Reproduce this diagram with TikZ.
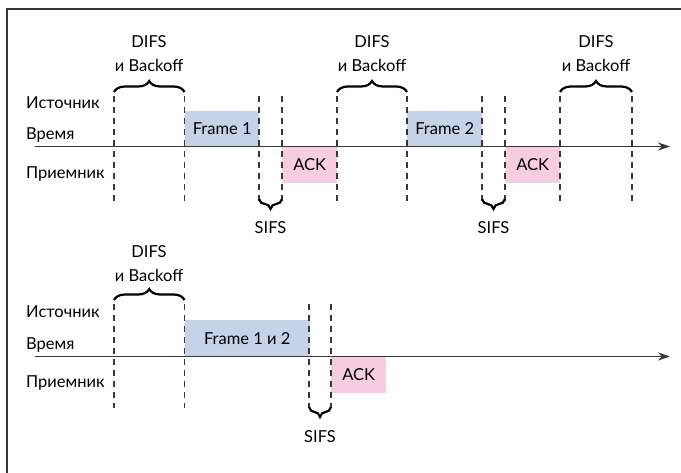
\documentclass[tikz,border=0pt]{standalone}
\usepackage{fontspec}
\setmainfont{Lato}
\usetikzlibrary{decorations.pathreplacing,arrows.meta}
\definecolor{linegray}{RGB}{55,55,55}
\definecolor{framefill}{RGB}{198,210,232}
\definecolor{ackfill}{RGB}{246,206,224}
\tikzset{
  txt/.style={font=\fontsize{16.5}{18}\selectfont, inner sep=0pt, text=black},
  lbl/.style={txt, anchor=west},
  framebox/.style={fill=framefill, inner sep=0pt, font=\fontsize{16.5}{18}\selectfont},
  ackbox/.style={fill=ackfill, inner sep=0pt, font=\fontsize{16.5}{18}\selectfont},
  dline/.style={draw=linegray, line width=1.5pt, dash pattern=on 6pt off 5pt},
  axis/.style={draw=linegray, line width=1.4pt, -{Stealth[length=12pt,width=8pt]}},
  bracetop/.style={draw=black, line width=2.2pt, decorate, decoration={brace, amplitude=11pt}},
  bracebot/.style={draw=black, line width=2.2pt, decorate, decoration={brace, amplitude=10pt}},
}
\begin{document}
\begin{tikzpicture}[x=1pt,y=-1pt]
\useasboundingbox (0,0) rectangle (681,473);
\draw[linegray, line width=2pt] (6.5,473) -- (6.5,9.5) -- (681,9.5);

% ---------- top diagram ----------
\node[lbl] (src1) at (26,103) {Источник};
\node[lbl] (time1) at (26,135) {Время};
\node[lbl] (rcv1) at (26,174) {Приемник};

\coordinate (ax1s) at (35,146.5);
\coordinate (ax1e) at (670,146.5);

\node[framebox, minimum width=74pt, minimum height=36pt, anchor=north west] (f1) at (185,110.5) {Frame 1};
\node[ackbox, minimum width=55pt, minimum height=36pt, anchor=north west] (ack1) at (282,146.5) {ACK};
\node[framebox, minimum width=75pt, minimum height=36pt, anchor=north west] (f2) at (407,110.5) {Frame 2};
\node[ackbox, minimum width=55pt, minimum height=36pt, anchor=north west] (ack2) at (505,146.5) {ACK};

\draw[axis] (ax1s) -- (ax1e);

\foreach \n/\x in {a/114,b/184.5,c/259,d/282,e/337,f/407,g/482,h/505,i/560,j/632}{
  \coordinate (t\n) at (\x,96);
  \coordinate (b\n) at (\x,201);
  \draw[dline] (t\n) -- (b\n);
}

\draw[bracetop] (114,92) coordinate (br1a) -- (184.5,92) coordinate (br1b);
\draw[bracetop] (337,92) coordinate (br2a) -- (407,92) coordinate (br2b);
\draw[bracetop] (560,92) coordinate (br3a) -- (632,92) coordinate (br3b);
\node[txt] (difs1) at (149,42) {DIFS};
\node[txt] (bo1) at (149,65) {и Backoff};
\node[txt] (difs2) at (372,42) {DIFS};
\node[txt] (bo2) at (372,65) {и Backoff};
\node[txt] (difs3) at (596,42) {DIFS};
\node[txt] (bo3) at (596,65) {и Backoff};

\draw[bracebot] (282,199) -- (259,199);
\draw[bracebot] (505,199) -- (482,199);
\node[txt] (sifs1) at (270.5,228) {SIFS};
\node[txt] (sifs2) at (493.5,228) {SIFS};

% ---------- bottom diagram ----------
\node[lbl] (src2) at (26,312) {Источник};
\node[lbl] (time2) at (26,345) {Время};
\node[lbl] (rcv2) at (26,383) {Приемник};

\coordinate (ax2s) at (35,356.5);
\coordinate (ax2e) at (670,356.5);

\node[framebox, minimum width=125pt, minimum height=37pt, anchor=north west] (f12) at (184.5,319.5) {Frame 1 и 2};
\node[ackbox, minimum width=55pt, minimum height=36pt, anchor=north west] (ack3) at (331,356.5) {ACK};

\draw[axis] (ax2s) -- (ax2e);

\foreach \n/\x in {k/114,l/184.5,m/309,n/331}{
  \coordinate (t\n) at (\x,304);
  \coordinate (b\n) at (\x,408);
  \draw[dline] (t\n) -- (b\n);
}

\draw[bracetop] (114,300) -- (184.5,300);
\node[txt] (difs4) at (149,252) {DIFS};
\node[txt] (bo4) at (149,275) {и Backoff};

\draw[bracebot] (331,407) -- (309,407);
\node[txt] (sifs3) at (320,437) {SIFS};
\end{tikzpicture}
\end{document}
